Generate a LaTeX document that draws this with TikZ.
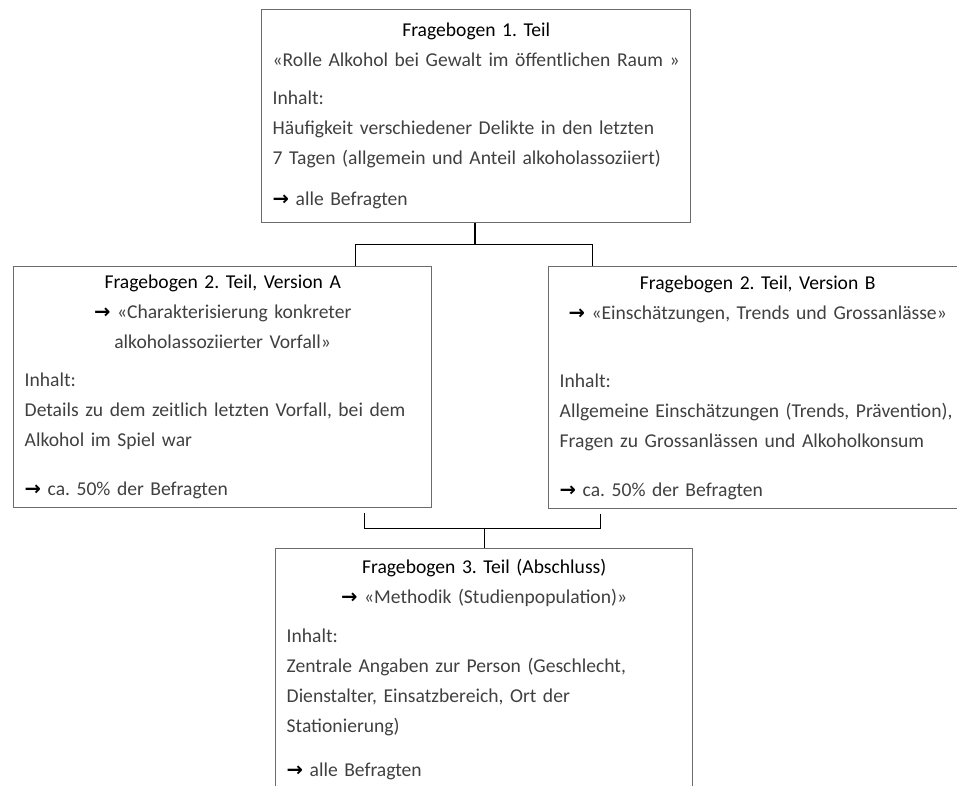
\documentclass[tikz,border=0pt]{standalone}
\usepackage{fontspec}
\setmainfont[WordSpace=0.85]{Carlito}
\newfontfamily\arrowfont{DejaVu Sans}
\usetikzlibrary{positioning}
\usetikzlibrary{calc}
\colorlet{frame colour}{black!58}
\colorlet{text colour}{black!75}
\colorlet{link colour}{black}
% Bold arrow in front of the target group
\newcommand{\pfeil}{{\arrowfont\bfseries\color{black}→}}
\newcommand{\boxhead}[1]{\textcolor{black}{#1}}
\tikzset{
    % Define a set of styles
    % First the boxes
    box/.style={draw=frame colour, line width=1.4pt, text=text colour,
        inner xsep=11pt, inner ysep=0pt, anchor=north west,
        font=\fontsize{19.6}{30}\selectfont\frenchspacing},
    % Next some lines
    link/.style={color=link colour, line width=0.9pt},
    stem/.style={color=link colour, line width=1.8pt},
    % We almost always want left aligned node text
    every node/.style={align=left},
}

\begin{document}
\begin{tikzpicture}[x=1pt, y=-1pt]

% This path fixes the extent of the diagram
\clip (0,0) rectangle (957,785);

% Part 1
\node [box, minimum width=429pt, minimum height=213pt, text width=407pt]
    (teil1) at (261,9) {%
    {\centering\boxhead{Fragebogen 1. Teil}\\
    «Rolle Alkohol bei Gewalt im öffentlichen Raum »\par}
    \vspace{8pt}
    Inhalt:\\
    Häufigkeit verschiedener Delikte in den letzten\\
    7~Tagen (allgemein und Anteil alkoholassoziiert)\par
    \vspace{11pt}
    \pfeil\ alle Befragten};

% Part 2, version A
\node [box, minimum width=418pt, minimum height=241pt, text width=396pt]
    (versionA) at (13,266) {%
    {\centering\boxhead{Fragebogen 2. Teil, Version A}\\
    \pfeil\ «Charakterisierung konkreter\\
    alkoholassoziierter Vorfall»\par}
    \vspace{8pt}
    Inhalt:\\
    Details zu dem zeitlich letzten Vorfall, bei dem\\
    Alkohol im Spiel war\par
    \vspace{19pt}
    \pfeil\ ca. 50\% der Befragten};

% Part 2, version B
\node [box, minimum width=418pt, minimum height=242pt, text width=396pt]
    (versionB) at (548,266) {%
    {\centering\boxhead{Fragebogen 2. Teil, Version B}\\
    \pfeil\ «Einschätzungen, Trends und Grossanlässe»\par}
    \vspace{38pt}
    Inhalt:\\
    Allgemeine Einschätzungen (Trends, Prävention),\\
    Fragen zu Grossanlässen und Alkoholkonsum\par
    \vspace{19pt}
    \pfeil\ ca. 50\% der Befragten};

% Part 3
\node [box, minimum width=417pt, minimum height=241pt, text width=395pt, inner xsep=10pt]
    (teil3) at (275,548) {%
    {\centering\boxhead{Fragebogen 3. Teil (Abschluss)}\\
    \pfeil\ «Methodik (Studienpopulation)»\par}
    \vspace{9pt}
    Inhalt:\\
    Zentrale Angaben zur Person (Geschlecht,\\
    Dienstalter, Einsatzbereich, Ort der\\
    Stationierung)\par
    \vspace{14pt}
    \pfeil\ alle Befragten};

% Split below part 1
\coordinate (split) at ($(teil1.south)+(-1.5,21)$);
\draw [stem] (teil1.south -| split) -- (split);
\draw [link]
    ($(versionA.north west)!0.816!(versionA.north east)$) |- (split)
    -| ($(versionB.north west)!0.105!(versionB.north east)$);

% Join above part 3
\coordinate (join) at ($(teil3.north)+(0,-20)$);
\draw [link] (join) -- (teil3.north);
\draw [link]
    ($(versionA.south west)!0.837!(versionA.south east)+(0,5)$) |- (join)
    -| ($(versionB.south west)!0.124!(versionB.south east)+(0,5)$);

\end{tikzpicture}
\end{document}
